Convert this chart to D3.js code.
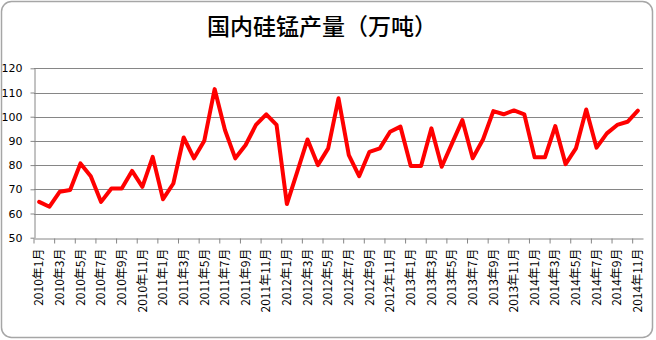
<!DOCTYPE html>
<html>
<head>
<meta charset="utf-8">
<script src="https://cdn.jsdelivr.net/npm/d3@7/dist/d3.min.js"></script>
<style>
  body { margin: 0; background: #fff; }
  svg { display: block; }
  .tick text { font-family: "DejaVu Sans", "Noto Sans CJK SC", sans-serif; font-size: 11px; fill: #000; }
  .x-axis .tick text { font-family: "Noto Sans CJK SC", sans-serif; font-size: 12px; }
</style>
</head>
<body>
<svg width="656" height="340"></svg>
<script>
(function () {
  'use strict';

  var categories = [
    '2010年1月', '2010年2月', '2010年3月', '2010年4月', '2010年5月', '2010年6月',
    '2010年7月', '2010年8月', '2010年9月', '2010年10月', '2010年11月', '2010年12月',
    '2011年1月', '2011年2月', '2011年3月', '2011年4月', '2011年5月', '2011年6月',
    '2011年7月', '2011年8月', '2011年9月', '2011年10月', '2011年11月', '2011年12月',
    '2012年1月', '2012年2月', '2012年3月', '2012年4月', '2012年5月', '2012年6月',
    '2012年7月', '2012年8月', '2012年9月', '2012年10月', '2012年11月', '2012年12月',
    '2013年1月', '2013年2月', '2013年3月', '2013年4月', '2013年5月', '2013年6月',
    '2013年7月', '2013年8月', '2013年9月', '2013年10月', '2013年11月', '2013年12月',
    '2014年1月', '2014年2月', '2014年3月', '2014年4月', '2014年5月', '2014年6月',
    '2014年7月', '2014年8月', '2014年9月', '2014年10月', '2014年11月'
  ];

  // 国内硅锰产量（万吨）
  var output = [
    64.8, 62.8, 69.0, 69.7, 80.7, 75.4, 64.8, 70.3, 70.3, 77.6, 71.0, 83.4,
    65.9, 72.4, 91.4, 82.8, 90.1, 111.4, 94.5, 82.8, 88.3, 96.6, 101.0, 96.6,
    63.9, 77.2, 90.6, 80.0, 86.9, 107.6, 84.1, 75.4, 85.5, 86.9, 93.8, 95.9,
    79.6, 79.6, 95.2, 79.3, 89.0, 98.6, 82.8, 90.6, 102.3, 101.0, 102.6, 101.0,
    83.2, 83.2, 96.1, 80.4, 86.9, 103.0, 87.2, 93.1, 96.6, 97.9, 102.5
  ];

  var yTicks = [50, 60, 70, 80, 90, 100, 110, 120];
  var title = '国内硅锰产量（万吨）';

  var plot = { left: 34, right: 643, top: 68.3, bottom: 237.7 };
  var svg = d3.select('svg');

  // chart border
  svg.append('rect')
    .attr('x', 1.5).attr('y', 1.5)
    .attr('width', 651).attr('height', 336)
    .attr('rx', 10).attr('ry', 10)
    .attr('fill', '#fff')
    .attr('stroke', '#a6a6a6')
    .attr('stroke-width', 1.5);

  svg.append('text')
    .attr('x', 322).attr('y', 35)
    .attr('text-anchor', 'middle')
    .style('font-family', '"Noto Sans CJK SC", sans-serif')
    .style('font-size', '23px')
    .style('font-weight', 500)
    .style('fill', '#000')
    .text(title);

  var x = d3.scaleBand().domain(categories).range([plot.left, plot.right]);
  var y = d3.scaleLinear().domain([50, 120]).range([plot.bottom, plot.top]);

  // gridlines
  svg.append('g')
    .selectAll('line')
    .data(yTicks.slice(1))
    .enter().append('line')
    .attr('x1', plot.left).attr('x2', plot.right)
    .attr('y1', function (d) { return Math.round(y(d)) + 0.5; })
    .attr('y2', function (d) { return Math.round(y(d)) + 0.5; })
    .attr('stroke', '#868686');

  var yAxis = svg.append('g')
    .attr('transform', 'translate(' + (plot.left + 0.5) + ',0)')
    .call(d3.axisLeft(y).tickValues(yTicks).tickSize(4).tickSizeOuter(0).tickPadding(8));
  yAxis.selectAll('line, path').attr('stroke', '#868686');

  var labelled = categories.filter(function (d, i) { return i % 2 === 0; });
  var bw = x.bandwidth();

  var xAxis = svg.append('g')
    .attr('class', 'x-axis')
    .attr('transform', 'translate(0,' + (Math.round(plot.bottom) + 0.5) + ')')
    .call(d3.axisBottom(x).tickValues(labelled).tickSize(5).tickSizeOuter(0));
  xAxis.selectAll('path').attr('stroke', '#868686');
  xAxis.selectAll('.tick line')
    .attr('stroke', '#868686')
    .attr('transform', 'translate(' + (-bw / 2) + ',0)');
  xAxis.selectAll('.tick text')
    .attr('transform', 'rotate(-90)')
    .attr('text-anchor', 'end')
    .attr('x', -10)
    .attr('y', 0)
    .attr('dy', '0.35em');

  var line = d3.line()
    .x(function (d, i) { return x(categories[i]) + bw / 2; })
    .y(function (d) { return y(d); });

  svg.append('path')
    .datum(output)
    .attr('d', line)
    .attr('fill', 'none')
    .attr('stroke', '#ff0000')
    .attr('stroke-width', 4)
    .attr('stroke-linejoin', 'round')
    .attr('stroke-linecap', 'round');
}());
</script>
</body>
</html>
